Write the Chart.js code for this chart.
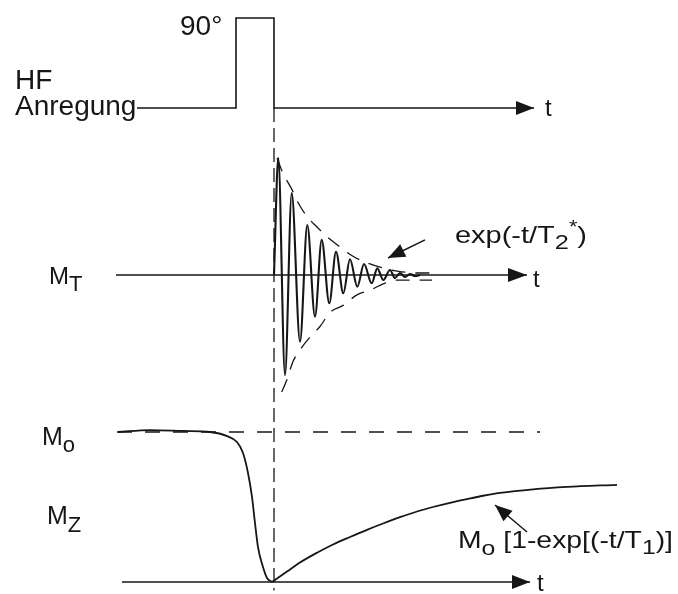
<!DOCTYPE html>
<html>
<head>
<meta charset="utf-8">
<script src="https://cdn.jsdelivr.net/npm/chart.js@4/dist/chart.umd.min.js"></script>
<style>
  html, body { margin: 0; padding: 0; background: #fff; }
  #c { display: block; }
</style>
</head>
<body>
<canvas id="c" width="678" height="594"></canvas>
<script>
// time in arbitrary units, t = 0 at the end of the 90° pulse
// HF excitation
var hfTime = [-13.7, -3.8, -3.8, 0, 0, 26.0];
var hfLevel = [0, 0, 1, 1, 0, 0];
var markerTime = [0, 0];
var markerLevel = [0, -5.36];

// transverse magnetisation (FID), extrema
var mtAxisTime = [-15.8, 25.3];
var fidTime = [0, 0.43, 1.1, 1.77, 2.6, 3.33, 4.1, 4.77, 5.53, 6.2, 6.93, 7.6, 8.33, 9.0, 9.77,
               10.33, 10.93, 11.6, 12.1, 12.6, 13.1, 13.6, 14.1, 14.6];
var fidValue = [0, 1.0, -0.855, 0.70, -0.57, 0.427, -0.356, 0.30, -0.242, 0.199, -0.156, 0.134, -0.10, 0.094, -0.071,
                0.057, -0.043, 0.043, -0.026, 0.017, -0.017, 0.009, -0.009, 0];
var envUpperTime = [0.3, 0.9, 1.8, 2.4, 3.3, 4.3, 5.4, 6.6, 7.9, 9.4, 10.9, 12.3, 14.3, 15.6];
var envUpper = [1.0, 0.87, 0.73, 0.62, 0.50, 0.41, 0.32, 0.24, 0.16, 0.10, 0.06, 0.034, 0.017, 0.017];
var envLowerTime = [0.77, 1.27, 1.9, 2.6, 3.6, 4.6, 5.6, 6.9, 8.3, 9.6, 11.1, 12.4, 14.3, 15.8];
var envLower = [-1.0, -0.9, -0.74, -0.64, -0.53, -0.44, -0.32, -0.26, -0.17, -0.13, -0.07, -0.043, -0.043, -0.043];
var t2ArrowTime = [15.1, 11.4];
var t2ArrowValue = [0.30, 0.145];

// longitudinal magnetisation
var mzAxisTime = [-15.2, 25.6];
var m0Time = [-15.7, 26.6];
var m0Level = [1, 1];
var mzFallTime = [-15.6, -12.4, -9.1, -6.4, -4.7, -3.7, -3.1, -2.6, -2.2, -1.9, -1.6, -1.1, -0.7, -0.2];
var mzFall = [1.0, 1.013, 1.007, 1.0, 0.973, 0.933, 0.86, 0.727, 0.567, 0.393, 0.233, 0.10, 0.027, 0];
var mzRiseTime = [-0.2, 1.3, 2.6, 4.3, 5.9, 7.6, 9.3, 10.9, 12.6, 14.3, 15.9, 17.6, 19.3, 20.9, 22.6, 25.9, 29.3, 34.3];
var mzRise = [0, 0.07, 0.13, 0.195, 0.25, 0.30, 0.348, 0.39, 0.432, 0.47, 0.50, 0.528, 0.553, 0.575, 0.594, 0.618, 0.634, 0.648];
var t1ArrowTime = [25.3, 22.1];
var t1ArrowValue = [0.333, 0.513];

var ink = '#161616';
var H = 594;
var FONT = '"Liberation Sans", Arial, Helvetica, sans-serif';

function xy(ts, vs) {
    return ts.map(function (t, i) { return {x: t, y: vs[i]}; });
}
function zeros(ts) {
    return ts.map(function () { return 0; });
}
function line(data, axis, extra) {
    return Object.assign({
        data: data, yAxisID: axis, borderColor: ink, borderWidth: 1.6,
        pointRadius: 0, fill: false, tension: 0, borderCapStyle: 'butt'
    }, extra || {});
}
// a panel: pixel row of its zero line and pixels per unit
function band(zeroPx, pxPerUnit) {
    return {type: 'linear', display: false, min: -(H - zeroPx) / pxPerUnit, max: zeroPx / pxPerUnit};
}

var labels = [
    {x: 180, y: 35, parts: [['90°', 28, 0]]},
    {x: 15, y: 89, parts: [['HF', 28, 0]]},
    {x: 15, y: 115, parts: [['Anregung', 28, 0]]},
    {x: 545, y: 116, parts: [['t', 24, 0]]},
    {x: 49, y: 284, parts: [['M', 24, 0], ['T', 22, 7]]},
    {x: 533, y: 287, parts: [['t', 24, 0]]},
    {x: 455, y: 243, width: 132, parts: [['exp(-t/T', 24, 0], ['2', 21, 6], ['*', 18, -10], [')', 24, 0]]},
    {x: 42, y: 445, parts: [['M', 25, 0], ['o', 22, 7]]},
    {x: 47, y: 524, parts: [['M', 25, 0], ['Z', 22, 8]]},
    {x: 458, y: 548, width: 215, parts: [['M', 24, 0], ['o', 21, 7], [' [1-exp[(-t/T', 24, 0], ['1', 21, 6], [')]', 24, 0]]},
    {x: 537, y: 591, parts: [['t', 24, 0]]}
];

var arrowPlugin = {
    id: 'arrows',
    afterDatasetsDraw: function (chart) {
        var ctx = chart.ctx;
        chart.data.datasets.forEach(function (ds, i) {
            if (!ds.arrowHead) return;
            var pts = chart.getDatasetMeta(i).data;
            var a = pts[pts.length - 2], b = pts[pts.length - 1];
            var ang = Math.atan2(b.y - a.y, b.x - a.x);
            ctx.save();
            ctx.translate(b.x, b.y);
            ctx.rotate(ang);
            ctx.beginPath();
            ctx.moveTo(0, 0);
            ctx.lineTo(-ds.arrowHead[0], -ds.arrowHead[1]);
            ctx.lineTo(-ds.arrowHead[0], ds.arrowHead[1]);
            ctx.closePath();
            ctx.fillStyle = ink;
            ctx.fill();
            ctx.restore();
        });
    }
};

var textPlugin = {
    id: 'texts',
    afterDraw: function (chart) {
        var ctx = chart.ctx;
        ctx.save();
        ctx.fillStyle = ink;
        ctx.textBaseline = 'alphabetic';
        labels.forEach(function (lb) {
            var natural = 0;
            lb.parts.forEach(function (p) {
                ctx.font = p[1] + 'px ' + FONT;
                natural += ctx.measureText(p[0]).width;
            });
            var sx = lb.width ? lb.width / natural : 1;
            ctx.save();
            ctx.translate(lb.x, lb.y);
            ctx.scale(sx, 1);
            var cx = 0;
            lb.parts.forEach(function (p) {
                ctx.font = p[1] + 'px ' + FONT;
                ctx.fillText(p[0], cx, p[2]);
                cx += ctx.measureText(p[0]).width;
            });
            ctx.restore();
        });
        ctx.restore();
    }
};

new Chart(document.getElementById('c'), {
    type: 'line',
    data: {
        datasets: [
            line(xy(hfTime, hfLevel), 'yHF', {arrowHead: [18, 7]}),
            line(xy(markerTime, markerLevel), 'yHF', {borderWidth: 1.3, borderDash: [14, 6]}),
            line(xy(mtAxisTime, zeros(mtAxisTime)), 'yMT', {arrowHead: [19, 7]}),
            line(xy(envUpperTime, envUpper), 'yMT', {borderWidth: 1.3, borderDash: [14, 10], cubicInterpolationMode: 'monotone'}),
            line(xy(envLowerTime, envLower), 'yMT', {borderWidth: 1.3, borderDash: [14, 10], cubicInterpolationMode: 'monotone'}),
            line(xy(fidTime, fidValue), 'yMT', {borderWidth: 2.1, cubicInterpolationMode: 'monotone'}),
            line(xy(t2ArrowTime, t2ArrowValue), 'yMT', {borderWidth: 1.5, arrowHead: [17, 7]}),
            line(xy(m0Time, m0Level), 'yMZ', {borderWidth: 1.4, borderDash: [15, 13]}),
            line(xy(mzAxisTime, zeros(mzAxisTime)), 'yMZ', {arrowHead: [18, 7]}),
            line(xy(mzFallTime, mzFall), 'yMZ', {borderWidth: 1.8, cubicInterpolationMode: 'monotone'}),
            line(xy(mzRiseTime, mzRise), 'yMZ', {borderWidth: 1.8, cubicInterpolationMode: 'monotone'}),
            line(xy(t1ArrowTime, t1ArrowValue), 'yMZ', {borderWidth: 1.5, arrowHead: [17, 7]})
        ]
    },
    options: {
        responsive: false,
        animation: false,
        layout: {padding: 0},
        plugins: {legend: {display: false}, tooltip: {enabled: false}},
        scales: {
            x: {type: 'linear', display: false, min: -27.4, max: 40.4},
            yHF: band(108, 90),
            yMT: band(275, 117),
            yMZ: band(582, 150)
        }
    },
    plugins: [arrowPlugin, textPlugin]
});
</script>
</body>
</html>
